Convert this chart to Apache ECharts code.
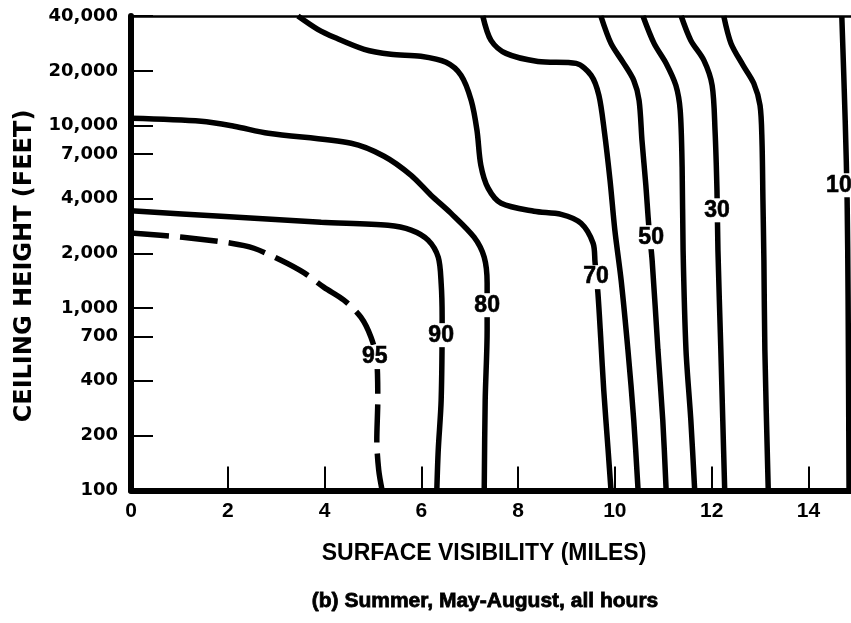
<!DOCTYPE html>
<html><head><meta charset="utf-8">
<script src="https://cdn.jsdelivr.net/npm/echarts@6/dist/echarts.min.js"></script>
<style>html,body{margin:0;padding:0;background:#fff}#c{width:851px;height:623px}</style>
</head><body><div id="c"></div>
<script>
// axis ticks
const xTickValues = [0, 2, 4, 6, 8, 10, 12, 14];
const yTickValues = [100, 200, 400, 700, 1000, 2000, 4000, 7000, 10000, 20000, 40000];

// contour lines: [visibility (miles), ceiling (feet)]
const c95 = [[0,2580],[1.07,2450],[2.07,2270],[2.54,2130],[3.10,1830],[3.58,1560],[3.99,1300],[4.40,1107],[4.75,893],[4.96,693],[5.08,519],[5.10,313],[5.08,189],[5.12,129],[5.19,100]];
const c90 = [[0,3420],[1.86,3190],[3.93,2960],[5.31,2850],[5.79,2680],[6.14,2360],[6.35,1900],[6.41,1370],[6.43,893],[6.41,313],[6.35,167],[6.32,100]];
const c80 = [[0,10990],[1.45,10580],[2.13,9940],[2.84,9100],[4.55,8020],[5.23,6810],[5.79,5350],[6.20,4160],[6.61,3320],[7.09,2450],[7.30,1900],[7.36,1370],[7.36,757],[7.32,313],[7.30,100]];
const c70 = [[3.45,40000],[3.86,33800],[4.20,30550],[4.82,26240],[5.37,24660],[5.99,24040],[6.51,22280],[6.82,18920],[7.03,13800],[7.15,9450],[7.23,6080],[7.38,4550],[7.65,3760],[8.33,3400],[8.89,3270],[9.30,2920],[9.55,2270],[9.59,1785],[9.65,1208],[9.71,668],[9.77,355],[9.86,167],[9.92,100]];
const c60 = [[7.27,40000],[7.44,29400],[7.75,24950],[8.41,22540],[9.20,21980],[9.51,18920],[9.67,14690],[9.78,9450],[9.90,5030],[10.00,2670],[10.13,1420],[10.27,589],[10.39,243],[10.48,100]];
const c50 = [[9.71,40000],[9.92,28300],[10.17,22280],[10.39,17750],[10.50,13800],[10.56,8340],[10.64,4720],[10.70,2850],[10.77,1830],[10.89,589],[10.99,243],[11.06,100]];
const c40 = [[10.58,40000],[10.81,28300],[11.06,21980],[11.26,16670],[11.35,12160],[11.39,5930],[11.41,2080],[11.47,589],[11.57,243],[11.65,100]];
const c30 = [[11.37,40000],[11.57,29400],[11.84,22850],[12.01,16670],[12.07,9450],[12.11,4430],[12.13,2080],[12.19,589],[12.23,243],[12.27,100]];
const c20 = [[12.25,40000],[12.40,28300],[12.65,21460],[12.87,17100],[13.00,12940],[13.04,8340],[13.06,3910],[13.08,1830],[13.10,589],[13.17,100]];
const c10 = [[14.69,40000],[14.76,10720],[14.80,3910],[14.82,1107],[14.84,100]];

const contourNames = ['95', '90', '80', '70', '60', '50', '40', '30', '20', '10'];
const contourData = [c95, c90, c80, c70, c60, c50, c40, c30, c20, c10];

// contour labels
const labelTexts = ['95', '90', '80', '70', '50', '30', '10'];
const labelXs = [5.04, 6.41, 7.36, 9.61, 10.75, 12.11, 14.63];
const labelYs = [539, 711, 1038, 1479, 2450, 3440, 4720];

const fmtThousands = v => String(Math.round(v)).replace(/\B(?=(\d{3})+(?!\d))/g, ',');

const chart = echarts.init(document.getElementById('c'), null, {renderer: 'canvas'});

const series = contourData.map((d, i) => ({
  type: 'line',
  name: contourNames[i],
  data: d,
  showSymbol: false,
  symbol: 'none',
  smooth: 0.3,
  lineStyle: {color: '#000', width: 5.5, type: contourNames[i] === '95' ? [38, 11] : 'solid', cap: 'butt', opacity: 1},
  z: 3,
  silent: true
}));

series.push({
  type: 'scatter',
  data: labelTexts.map((t, i) => [labelXs[i], labelYs[i], t]),
  symbolSize: 0,
  itemStyle: {color: '#fff', opacity: 1},
  label: {
    show: true,
    position: 'inside',
    formatter: p => p.value[2],
    color: '#000',
    opacity: 1,
    fontFamily: 'Liberation Sans, Arial, sans-serif',
    fontWeight: 'bold',
    fontSize: 23,
    textBorderColor: '#000',
    textBorderWidth: 0.6,
    backgroundColor: '#fff',
    padding: [1, 1, 0, 1]
  },
  emphasis: {disabled: true},
  z: 10,
  silent: true
});

chart.setOption({
  animation: false,
  backgroundColor: '#fff',
  grid: {left: 131, right: 0, top: 16, bottom: 132.5, containLabel: false, outerBoundsMode: 'none'},
  xAxis: [{
    type: 'value',
    min: 0,
    max: 14.88,
    interval: 2,
    axisLine: {show: true, onZero: false, lineStyle: {color: '#000', width: 6}},
    axisTick: {show: true, inside: true, length: 24, lineStyle: {color: '#000', width: 2}, customValues: xTickValues},
    axisLabel: {show: true, customValues: xTickValues, margin: 10, color: '#000', fontFamily: 'Liberation Sans, Arial, sans-serif', fontWeight: 'bold', fontSize: 21, hideOverlap: false},
    splitLine: {show: false}
  }, {
    type: 'value',
    position: 'top',
    min: 0,
    max: 14.88,
    axisLine: {show: true, onZero: false, lineStyle: {color: '#000', width: 2.5}},
    axisTick: {show: false},
    axisLabel: {show: false},
    splitLine: {show: false}
  }],
  yAxis: {
    type: 'log',
    logBase: 10,
    min: 100,
    max: 40000,
    axisLine: {show: true, onZero: false, lineStyle: {color: '#000', width: 6}},
    axisTick: {show: true, inside: true, length: 22, lineStyle: {color: '#000', width: 2}, customValues: yTickValues},
    axisLabel: {show: true, customValues: yTickValues, margin: 13, color: '#000', fontFamily: 'DejaVu Sans, sans-serif', fontWeight: 'bold', fontSize: 18, formatter: v => fmtThousands(v)},
    splitLine: {show: false},
    minorTick: {show: false}
  },
  graphic: [
    {type: 'text', style: {text: 'SURFACE VISIBILITY (MILES)', font: 'bold 23px "Liberation Sans", Arial, sans-serif', fill: '#000', textAlign: 'center', textVerticalAlign: 'middle'}, x: 484, y: 554},
    {type: 'text', style: {text: '(b) Summer, May-August, all hours', font: 'bold 21px "Liberation Sans", Arial, sans-serif', fill: '#000', stroke: '#000', lineWidth: 0.8, textAlign: 'center', textVerticalAlign: 'middle'}, x: 485, y: 601},
    {type: 'text', style: {text: 'CEILING HEIGHT (FEET)', font: 'bold 24px "DejaVu Sans", sans-serif', fill: '#000', textAlign: 'center', textVerticalAlign: 'middle'}, x: 25, y: 266, rotation: Math.PI / 2}
  ],
  series: series
});
</script></body></html>
